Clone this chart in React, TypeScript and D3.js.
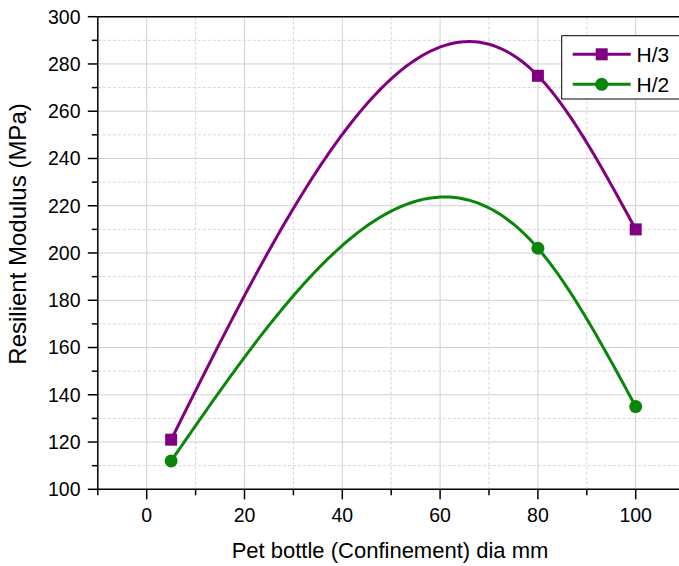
import React from "react";
import * as d3 from "d3";

const xValues = [5, 80, 100];
const h3Values = [121, 275, 210];
const h2Values = [112, 202, 135];
const seriesNames = ["H/3", "H/2"];
const xTicks = [0, 20, 40, 60, 80, 100];
const yTicks = [100, 120, 140, 160, 180, 200, 220, 240, 260, 280, 300];

const W = 679;
const H = 566;

// natural cubic spline y(x) sampling (rendering of the connecting curve)
function naturalSpline(xs: number[], ys: number[], steps = 200): [number, number][] {
  const n = xs.length;
  const h: number[] = [];
  for (let i = 0; i < n - 1; i++) h.push(xs[i + 1] - xs[i]);
  const M = new Array(n).fill(0);
  const m = n - 2;
  if (m > 0) {
    const a: number[] = [], b: number[] = [], c: number[] = [], d: number[] = [];
    for (let i = 1; i <= m; i++) {
      a.push(h[i - 1]);
      b.push(2 * (h[i - 1] + h[i]));
      c.push(h[i]);
      d.push(6 * ((ys[i + 1] - ys[i]) / h[i] - (ys[i] - ys[i - 1]) / h[i - 1]));
    }
    for (let i = 1; i < m; i++) {
      const w = a[i] / b[i - 1];
      b[i] -= w * c[i - 1];
      d[i] -= w * d[i - 1];
    }
    const sol = new Array(m).fill(0);
    sol[m - 1] = d[m - 1] / b[m - 1];
    for (let i = m - 2; i >= 0; i--) sol[i] = (d[i] - c[i] * sol[i + 1]) / b[i];
    for (let i = 0; i < m; i++) M[i + 1] = sol[i];
  }
  const pts: [number, number][] = [];
  for (let i = 0; i < n - 1; i++) {
    const seg = Math.max(2, Math.round((steps * h[i]) / (xs[n - 1] - xs[0])));
    for (let k = 0; k <= seg; k++) {
      if (i > 0 && k === 0) continue;
      const x = xs[i] + (h[i] * k) / seg;
      const A = xs[i + 1] - x;
      const B = x - xs[i];
      const y =
        (M[i] * A * A * A) / (6 * h[i]) +
        (M[i + 1] * B * B * B) / (6 * h[i]) +
        (ys[i] / h[i] - (M[i] * h[i]) / 6) * A +
        (ys[i + 1] / h[i] - (M[i + 1] * h[i]) / 6) * B;
      pts.push([x, y]);
    }
  }
  return pts;
}

export default function App() {
  const x = d3.scaleLinear().domain([-10, 110]).range([97.8, 684.6]);
  const y = d3.scaleLinear().domain([100, 300]).range([489.3, 16.7]);
  const line = d3
    .line<[number, number]>()
    .x((d) => x(d[0]))
    .y((d) => y(d[1]));

  const purple = "#800080";
  const green = "#0a870a";
  const font = "Liberation Sans, Arial, sans-serif";

  const xMinor = d3.range(10, 110, 20);
  const yMinor = d3.range(110, 300, 20);
  const series = [
    { name: seriesNames[0], vals: h3Values, color: purple, marker: "square" },
    { name: seriesNames[1], vals: h2Values, color: green, marker: "circle" },
  ];

  const x0 = x(-10);
  const xEnd = W + 10;
  const yBottom = y(100);
  const yTop = y(300);

  return (
    <svg
      width={W}
      height={H}
      style={{ position: "absolute", left: 0, top: 0, background: "#fff" }}
      fontFamily={font}
    >
      <rect width={W} height={H} fill="#fff" />
      {yMinor.map((v) => (
        <line key={"ym" + v} x1={x0} x2={xEnd} y1={y(v)} y2={y(v)} stroke="#d6d6d6" strokeWidth={1} strokeDasharray="3,2" />
      ))}
      {xMinor.map((v) => (
        <line key={"xm" + v} x1={x(v)} x2={x(v)} y1={yTop} y2={yBottom} stroke="#d6d6d6" strokeWidth={1} strokeDasharray="3,2" />
      ))}
      {yTicks.slice(1, -1).map((v) => (
        <line key={"yg" + v} x1={x0} x2={xEnd} y1={y(v)} y2={y(v)} stroke="#d0d0d0" strokeWidth={1} />
      ))}
      {xTicks.map((v) => (
        <line key={"xg" + v} x1={x(v)} x2={x(v)} y1={yTop} y2={yBottom} stroke="#d0d0d0" strokeWidth={1} />
      ))}

      {series.map((s) => (
        <path key={s.name} d={line(naturalSpline(xValues, s.vals)) || ""} fill="none" stroke={s.color} strokeWidth={3} />
      ))}
      {series.map((s) =>
        xValues.map((xv, i) =>
          s.marker === "square" ? (
            <rect key={s.name + i} x={x(xv) - 6} y={y(s.vals[i]) - 6} width={12} height={12} fill={s.color} />
          ) : (
            <circle key={s.name + i} cx={x(xv)} cy={y(s.vals[i])} r={6.5} fill={s.color} />
          )
        )
      )}

      <line x1={x0} x2={xEnd} y1={yTop} y2={yTop} stroke="#000" strokeWidth={1.5} />
      <line x1={x0} x2={x0} y1={yTop} y2={yBottom} stroke="#000" strokeWidth={1.5} />
      <line x1={x0} x2={xEnd} y1={yBottom} y2={yBottom} stroke="#000" strokeWidth={1.5} />
      {yTicks.map((v) => (
        <g key={"yt" + v}>
          <line x1={x0 - 10} x2={x0} y1={y(v)} y2={y(v)} stroke="#000" strokeWidth={1.5} />
          <text x={80.5} y={y(v)} dy="0.35em" textAnchor="end" fontSize={19.5}>
            {v}
          </text>
        </g>
      ))}
      {yMinor.map((v) => (
        <line key={"ymt" + v} x1={x0 - 6} x2={x0} y1={y(v)} y2={y(v)} stroke="#000" strokeWidth={1.5} />
      ))}
      {xTicks.map((v) => (
        <g key={"xt" + v}>
          <line x1={x(v)} x2={x(v)} y1={yBottom} y2={yBottom + 10} stroke="#000" strokeWidth={1.5} />
          <text x={x(v)} y={515} dy="0.35em" textAnchor="middle" fontSize={19.5}>
            {v}
          </text>
        </g>
      ))}
      {[-10, ...xMinor].map((v) => (
        <line key={"xmt" + v} x1={x(v)} x2={x(v)} y1={yBottom} y2={yBottom + 6} stroke="#000" strokeWidth={1.5} />
      ))}

      <text x={390} y={550} dy="0.35em" textAnchor="middle" fontSize={22}>
        Pet bottle (Confinement) dia mm
      </text>
      <text transform={`translate(18,234) rotate(-90)`} dy="0.35em" textAnchor="middle" fontSize={24}>
        Resilient Modulus (MPa)
      </text>

      <rect x={561.7} y={35.7} width={140} height={63.3} fill="#fff" stroke="#000" strokeWidth={1} />
      {series.map((s, i) => {
        const ly = 54.3 + i * 30;
        return (
          <g key={"lg" + s.name}>
            <line x1={572.7} x2={630.7} y1={ly} y2={ly} stroke={s.color} strokeWidth={3} />
            {s.marker === "square" ? (
              <rect x={601.7 - 6} y={ly - 6} width={12} height={12} fill={s.color} />
            ) : (
              <circle cx={601.7} cy={ly} r={6.5} fill={s.color} />
            )}
            <text x={636.5} y={ly} dy="0.36em" fontSize={21}>
              {s.name}
            </text>
          </g>
        );
      })}
    </svg>
  );
}
